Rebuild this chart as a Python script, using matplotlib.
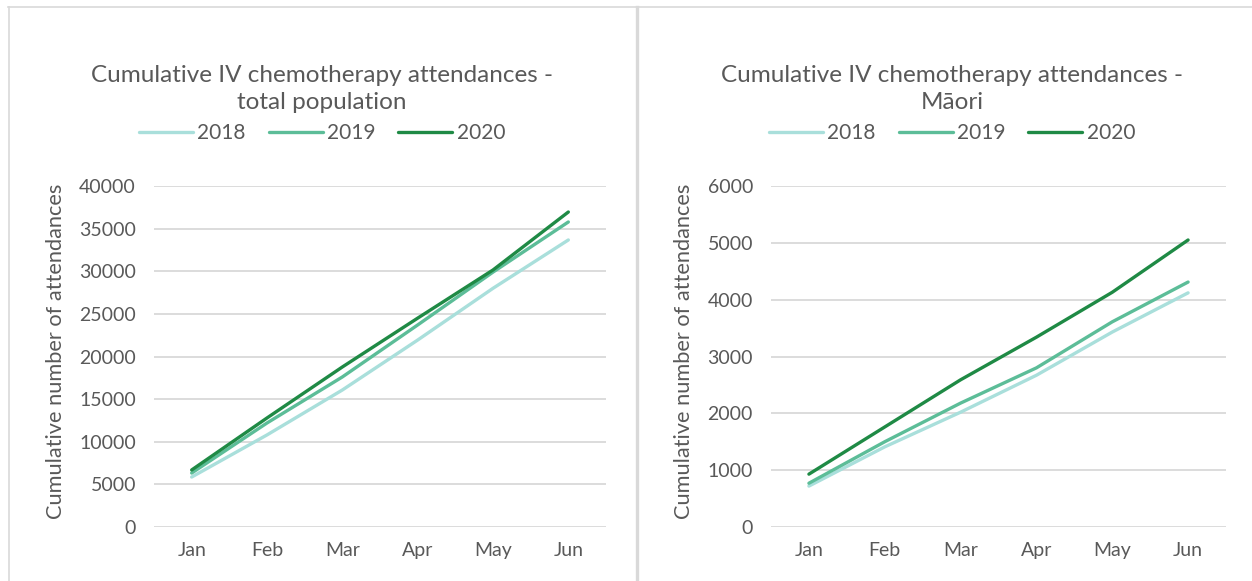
import matplotlib
matplotlib.use("Agg")
import matplotlib.pyplot as plt
from matplotlib.lines import Line2D
import numpy as np

# data
months = ["Jan", "Feb", "Mar", "Apr", "May", "Jun"]
years = ["2018", "2019", "2020"]

total_2018 = [5860, 10800, 16070, 21930, 28000, 33670]
total_2019 = [6330, 12200, 17600, 23700, 29900, 35780]
total_2020 = [6690, 12790, 18770, 24500, 30150, 36950]

maori_2018 = [720, 1410, 2020, 2670, 3430, 4120]
maori_2019 = [770, 1500, 2180, 2800, 3610, 4310]
maori_2020 = [930, 1760, 2590, 3340, 4130, 5050]

titles = ["Cumulative IV chemotherapy attendances -\ntotal population",
          "Cumulative IV chemotherapy attendances -\nMāori"]
y_ticks = [np.arange(0, 40001, 5000), np.arange(0, 6001, 1000)]
y_label = "Cumulative number of attendances"

colors = ["#A9DFDB", "#5CBD98", "#1F8A45"]
text_col = "#595959"
grid_col = "#D9D9D9"

plt.rcParams['font.family'] = ['Lato', 'DejaVu Sans']

W, H = 1252, 581
fig = plt.figure(figsize=(W / 100, H / 100), dpi=100)


def fx(px):
    return px / W


def fy(py):
    return 1 - py / H


panels = [
    dict(series=[total_2018, total_2019, total_2020], left=154, right=606, center=322, ylab_x=66),
    dict(series=[maori_2018, maori_2019, maori_2020], left=771, right=1226, center=952, ylab_x=694),
]

for i, p in enumerate(panels):
    ax = fig.add_axes([fx(p['left']), fy(527), fx(p['right'] - p['left']), fy(186) - fy(527)])
    x = np.arange(len(months))
    handles = []
    for vals, col, yr in zip(p['series'], colors, years):
        h, = ax.plot(x, vals, color=col, lw=2.4, label=yr, solid_capstyle='round', zorder=3)
        handles.append(h)
    ax.set_xlim(-0.5, len(months) - 0.5)
    ticks = y_ticks[i]
    ax.set_ylim(ticks[0], ticks[-1])
    ax.set_yticks(ticks)
    ax.set_xticks(x)
    ax.set_xticklabels(months)
    ax.grid(axis='y', color=grid_col, lw=1.3, zorder=0)
    ax.set_axisbelow(True)
    for s in ax.spines.values():
        s.set_visible(False)
    ax.tick_params(axis='both', length=0, colors=text_col, labelsize=14)
    ax.tick_params(axis='y', pad=13)
    ax.tick_params(axis='x', pad=11)
    ax.set_ylabel(y_label, color=text_col, fontsize=15.7)
    ax.yaxis.set_label_coords((p['ylab_x'] - p['left']) / (p['right'] - p['left']), 0.515)

    fig.text(fx(p['center']), fy(89), titles[i], ha='center', va='center',
             fontsize=17.5, color=text_col, linespacing=1.35)
    fig.legend(handles=handles, loc='center', bbox_to_anchor=(fx(p['center']), fy(133)),
               ncol=3, frameon=False, fontsize=15, labelcolor=text_col,
               handlelength=2.6, handletextpad=0.2, columnspacing=1.1)

# panel borders
border = dict(color="#D9D9D9", lw=1.2, transform=fig.transFigure)
fig.add_artist(Line2D([fx(8), 1], [fy(6.5), fy(6.5)], **border))
fig.add_artist(Line2D([fx(8.5), fx(8.5)], [0, fy(6.5)], **border))
fig.add_artist(Line2D([fx(636.5), fx(636.5)], [0, fy(6.5)], color="#D9D9D9", lw=2.4,
                      transform=fig.transFigure))

fig.savefig("out.png", dpi=100)
